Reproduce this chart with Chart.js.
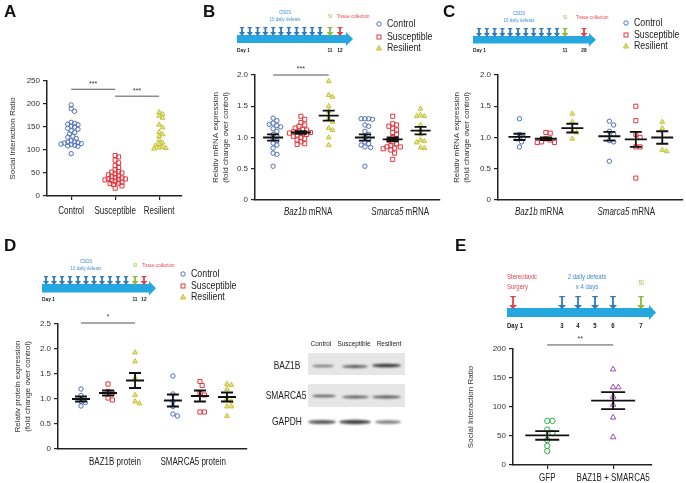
<!DOCTYPE html>
<html>
<head>
<meta charset="utf-8">
<script src="https://cdn.jsdelivr.net/npm/chart.js@4.4.1/dist/chart.umd.min.js"></script>
<style>
  body { margin: 0; background: #fff; width: 686px; height: 483px; overflow: hidden; position: relative; }
  .box { position: absolute; }
  #decor { position: absolute; left: 0; top: 0; }
</style>
</head>
<body>
<canvas id="decor" width="686" height="483"></canvas>
<div class="box" style="left:0;top:60px;width:190px;height:160px"><canvas id="chartA"></canvas></div>
<div class="box" style="left:200px;top:55px;width:245px;height:165px"><canvas id="chartB"></canvas></div>
<div class="box" style="left:445px;top:55px;width:241px;height:165px"><canvas id="chartC"></canvas></div>
<div class="box" style="left:0;top:305px;width:252px;height:165px"><canvas id="chartD"></canvas></div>
<div class="box" style="left:455px;top:330px;width:205px;height:153px"><canvas id="chartE"></canvas></div>
<script>
// ---------- data ----------
const groups = ['Control', 'Susceptible', 'Resilient'];

// A: social interaction ratio
const aControl = [198, 190, 184, 160, 158, 156, 155, 152, 150, 147, 145, 142, 138, 135, 130, 128, 125, 120, 118, 117, 116, 115, 114, 113, 112, 110, 109, 108, 92];
const aSusceptible = [88, 85, 78, 72, 66, 62, 57, 53, 52, 50, 48, 46, 44, 42, 40, 39, 38, 37, 36, 35, 34, 32, 30, 28, 27, 25, 22, 17];
const aResilient = [182, 178, 174, 170, 155, 149, 139, 134, 130, 122, 116, 113, 110, 107, 105, 104, 103];
const aSig = [{ from: 1, to: 2, y: 232, label: '***' }, { from: 2, to: 3, y: 217, label: '***' }];

// B: mRNA, day 12
const bBazControl = [1.31, 1.27, 1.23, 1.21, 1.19, 1.17, 1.14, 1.1, 1.05, 1.02, 0.98, 0.95, 0.91, 0.88, 0.83, 0.75, 0.73, 0.54];
const bBazSusceptible = [1.34, 1.29, 1.24, 1.2, 1.18, 1.15, 1.13, 1.12, 1.1, 1.09, 1.08, 1.07, 1.06, 1.05, 1.04, 1.02, 1.0, 0.98, 0.96, 0.93, 0.9, 0.89];
const bBazResilient = [1.9, 1.68, 1.65, 1.5, 1.42, 1.3, 1.25, 1.15, 1.12, 1.0, 0.88];
const bSmaControl = [1.3, 1.3, 1.3, 1.29, 1.2, 1.18, 1.1, 1.05, 1.0, 0.97, 0.93, 0.9, 0.88, 0.85, 0.84, 0.54];
const bSmaSusceptible = [1.34, 1.22, 1.2, 1.18, 1.15, 1.12, 1.08, 1.05, 1.0, 0.98, 0.96, 0.93, 0.9, 0.87, 0.85, 0.85, 0.83, 0.82, 0.8, 0.75, 0.65];
const bSmaResilient = [1.46, 1.36, 1.34, 1.34, 1.2, 1.12, 1.05, 0.96, 0.94, 0.92, 0.84, 0.83];
const bMeans = [1.0, 1.08, 1.35, 1.0, 0.97, 1.11];
const bSems = [0.05, 0.02, 0.08, 0.05, 0.03, 0.06];
const bSig = [{ from: 1, to: 3, y: 2.0, label: '***' }];

// C: mRNA, day 28
const cBazControl = [1.3, 1.05, 1.0, 0.98, 0.93, 0.85];
const cBazSusceptible = [1.08, 1.07, 0.98, 0.96, 0.93, 0.92, 0.92];
const cBazResilient = [1.38, 1.25, 1.1, 1.08, 0.98];
const cSmaControl = [1.26, 1.2, 1.1, 1.05, 0.95, 0.93, 0.62];
const cSmaSusceptible = [1.5, 1.27, 1.05, 1.0, 0.85, 0.85, 0.35];
const cSmaResilient = [1.25, 1.15, 0.8, 0.78];
const cMeans = [1.01, 0.98, 1.15, 1.02, 0.97, 1.0];
const cSems = [0.05, 0.02, 0.07, 0.07, 0.12, 0.1];

// D: protein
const dBazControl = [1.2, 1.07, 0.95, 0.93, 0.86];
const dBazSusceptible = [1.3, 1.15, 1.12, 1.02, 0.98];
const dBazResilient = [1.93, 1.75, 1.42, 1.08, 0.95, 0.91];
const dSmaControl = [1.46, 1.1, 0.95, 0.85, 0.7, 0.66];
const dSmaSusceptible = [1.35, 1.27, 1.12, 1.08, 0.74, 0.74];
const dSmaResilient = [1.3, 1.28, 1.2, 1.0, 0.95, 0.85, 0.85, 0.66];
const dMeans = [1.0, 1.12, 1.37, 0.97, 1.06, 1.04];
const dSems = [0.05, 0.05, 0.15, 0.12, 0.11, 0.09];
const dSig = [{ from: 1, to: 3, y: 2.52, label: '*' }];

// E: overexpression
const eGroups = ['GFP', 'BAZ1B + SMARCA5'];
const eGFP = [76, 76, 61, 55, 43, 33, 24];
const eCombo = [165, 134, 134, 118, 104, 82, 48];
const eMeans = [51, 111];
const eSems = [7.5, 14.5];
const eSig = [{ from: 1, to: 2, y: 207, label: '**' }];

// ---------- layout / style ----------
const SANS = '"Liberation Sans",Arial,sans-serif';
const SQUEEZE = 0.8;   // horizontal squeeze to mimic the narrow face of the original
Chart.defaults.font.family = SANS;
Chart.defaults.color = '#222';

const COL = { control: '#4e6fb7', susceptible: '#e4383f', resilient: '#c4c43a', gfp: '#2db14b', combo: '#9b50b4' };
const posB = [1, 2, 3, 4.3, 5.3, 6.3];
const posC = [1, 2, 3, 4.4, 5.4, 6.4];

// simple beeswarm: horizontal offsets so markers don't overlap
function swarm(values, center, pxX, pxY, d) {
  const placed = [];
  const xs = new Array(values.length);
  const order = values.map((v, i) => i).sort((a, b) => values[b] - values[a]);
  order.forEach(i => {
    const py = values[i] * pxY;
    let off = 0;
    for (let k = 0; k < 60; k++) {
      const o = (k % 2 ? 1 : -1) * Math.ceil(k / 2) * d * 0.5;
      if (placed.every(p => Math.hypot(p.x - o, p.y - py) >= d)) { off = o; break; }
    }
    placed.push({ x: off, y: py });
    xs[i] = center + off / pxX;
  });
  return xs;
}
function pts(values, center, sw) {
  const xs = swarm(values, center, sw[0], sw[1], sw[2]);
  return values.map((v, i) => ({ x: xs[i], y: v }));
}

function squeezed(ctx, str, x, y, sx) {
  ctx.save();
  ctx.translate(x, y);
  ctx.scale(sx, 1);
  ctx.fillText(str, 0, 0);
  ctx.restore();
}

const dotPlot = {
  id: 'dotPlot',
  afterDatasetsDraw(chart, args, o) {
    const { ctx } = chart;
    const xs = chart.scales.x, ys = chart.scales.y;
    ctx.save();
    ctx.strokeStyle = '#111';
    ctx.lineWidth = 1.8;
    (o.means || []).forEach((m, i) => {
      const x = xs.getPixelForValue(o.pos[i]);
      const yM = ys.getPixelForValue(m);
      const yT = ys.getPixelForValue(m + o.sems[i]);
      const yB = ys.getPixelForValue(m - o.sems[i]);
      ctx.beginPath();
      ctx.moveTo(x - o.meanHalf, yM); ctx.lineTo(x + o.meanHalf, yM);
      ctx.moveTo(x, yT); ctx.lineTo(x, yB);
      ctx.moveTo(x - o.whiskHalf, yT); ctx.lineTo(x + o.whiskHalf, yT);
      ctx.moveTo(x - o.whiskHalf, yB); ctx.lineTo(x + o.whiskHalf, yB);
      ctx.stroke();
    });
    ctx.strokeStyle = '#555';
    ctx.lineWidth = 1;
    ctx.fillStyle = '#333';
    ctx.font = '7px ' + SANS;
    ctx.textAlign = 'center';
    ctx.textBaseline = 'bottom';
    (o.sig || []).forEach(s => {
      const x1 = xs.getPixelForValue(s.from), x2 = xs.getPixelForValue(s.to), y = ys.getPixelForValue(s.y);
      ctx.beginPath(); ctx.moveTo(x1, y); ctx.lineTo(x2, y); ctx.stroke();
      ctx.fillText(s.label, (x1 + x2) / 2, y - 2);
    });
    // group labels under the x axis, gene names in italics
    ctx.fillStyle = '#222';
    ctx.textAlign = 'left';
    ctx.textBaseline = 'middle';
    (o.groups || []).forEach(g => {
      const fonts = g.parts.map(p => (p.italic ? 'italic ' : '') + '10px ' + SANS);
      const widths = g.parts.map((p, k) => { ctx.font = fonts[k]; return ctx.measureText(p.text).width * SQUEEZE; });
      let x = xs.getPixelForValue(g.x) - widths.reduce((a, b) => a + b, 0) / 2;
      const y = ys.getPixelForValue(0) + o.labelDy;
      g.parts.forEach((p, k) => { ctx.font = fonts[k]; squeezed(ctx, p.text, x, y, SQUEEZE); x += widths[k]; });
    });
    ctx.restore();
  }
};

function dotChart(id, o) {
  return new Chart(document.getElementById(id), {
    type: 'scatter',
    data: {
      datasets: o.series.map(s => ({
        label: s.label, data: s.points, pointStyle: s.style,
        pointRadius: s.radius, pointHoverRadius: s.radius,
        borderColor: s.color, backgroundColor: s.fill, borderWidth: 1
      }))
    },
    options: {
      responsive: true, maintainAspectRatio: false, animation: false,
      layout: { padding: o.pad },
      plugins: { legend: { display: false }, tooltip: { enabled: false }, dotPlot: o.dot },
      scales: {
        x: {
          type: 'linear', min: o.xMin, max: o.xMax,
          afterFit: s => { s.height = o.xH; },
          afterBuildTicks: s => { s.ticks = o.xTicks.map(v => ({ value: v })); },
          grid: { display: !!o.xTickMarks, drawOnChartArea: false, tickLength: 4, color: '#222', lineWidth: 1.2 },
          border: { display: true, color: '#222', width: 1.5 },
          ticks: { display: false }
        },
        y: {
          min: o.yMin, max: o.yMax,
          afterFit: s => { s.width = o.yW; },
          ticks: { stepSize: o.step, font: { size: 8 }, color: '#333', padding: 3, callback: o.yFmt },
          grid: { drawOnChartArea: false, tickLength: 4, color: '#222', lineWidth: 1.2 },
          border: { color: '#222', width: 1.5 },
          title: { display: true, text: o.title, color: '#333', font: { size: 8, lineHeight: 1.25 }, padding: { top: o.titlePad, bottom: 0 } }
        }
      }
    },
    plugins: [dotPlot]
  });
}

const fmt1 = v => v === 0 ? '0' : v.toFixed(1);
const circ = (p, col) => ({ label: 'Control', points: p, style: 'circle', radius: 2.2, color: col, fill: 'rgba(255,255,255,0)' });
const sq = (p, col) => ({ label: 'Susceptible', points: p, style: 'rect', radius: 2.9, color: col, fill: 'rgba(255,255,255,0)' });
const tri = (p, col) => ({ label: 'Resilient', points: p, style: 'triangle', radius: 2.8, color: col, fill: 'rgba(205,205,70,0.55)' });
const plain = (labels, xs) => labels.map((t, i) => ({ x: xs[i], parts: [{ text: t }] }));

// A
const swA = [44, 0.46, 3.4];
dotChart('chartA', {
  series: [circ(pts(aControl, 1, swA), COL.control), sq(pts(aSusceptible, 2, swA), COL.susceptible), tri(pts(aResilient, 3, swA), COL.resilient)],
  xMin: 0.45, xMax: 3.52, xTicks: [1, 2, 3], xTickMarks: true, xH: 24,
  yMin: 0, yMax: 250, step: 50, yW: 47, yFmt: v => v,
  pad: { top: 21, right: 8, left: 0, bottom: 0 },
  title: 'Social Interaction Ratio', titlePad: 8,
  dot: { sig: aSig, labelDy: 15, groups: plain(groups, [1, 2, 3]) }
});

// B
const swB = [27.8, 62.5, 3.8];
dotChart('chartB', {
  series: [
    circ(pts(bBazControl, posB[0], swB).concat(pts(bSmaControl, posB[3], swB)), COL.control),
    sq(pts(bBazSusceptible, posB[1], swB).concat(pts(bSmaSusceptible, posB[4], swB)), COL.susceptible),
    tri(pts(bBazResilient, posB[2], swB).concat(pts(bSmaResilient, posB[5], swB)), COL.resilient)
  ],
  xMin: 0.35, xMax: 7.0, xTicks: [2, 5.3], xH: 20,
  yMin: 0, yMax: 2, step: 0.5, yW: 55, yFmt: fmt1,
  pad: { top: 20, right: 5, left: 0, bottom: 0 },
  title: ['Relativ mRNA expression', '(fold change over control)'], titlePad: 11,
  dot: { means: bMeans, sems: bSems, pos: posB, meanHalf: 10, whiskHalf: 6, sig: bSig, labelDy: 12,
         groups: [{ x: 2.26, parts: [{ text: 'Baz1b', italic: true }, { text: ' mRNA' }] },
                  { x: 5.57, parts: [{ text: 'Smarca5', italic: true }, { text: ' mRNA' }] }] }
});

// C
const swC = [27, 62.5, 4.4];
dotChart('chartC', {
  series: [
    circ(pts(cBazControl, posC[0], swC).concat(pts(cSmaControl, posC[3], swC)), COL.control),
    sq(pts(cBazSusceptible, posC[1], swC).concat(pts(cSmaSusceptible, posC[4], swC)), COL.susceptible),
    tri(pts(cBazResilient, posC[2], swC).concat(pts(cSmaResilient, posC[5], swC)), COL.resilient)
  ],
  xMin: 0.19, xMax: 7.15, xTicks: [2, 5.4], xH: 20,
  yMin: 0, yMax: 2, step: 0.5, yW: 53, yFmt: fmt1,
  pad: { top: 20, right: 0, left: 0, bottom: 0 },
  title: ['Relativ mRNA expression', '(fold change over control)'], titlePad: 7,
  dot: { means: cMeans, sems: cSems, pos: posC, meanHalf: 11, whiskHalf: 6, labelDy: 12,
         groups: [{ x: 1.75, parts: [{ text: 'Baz1b', italic: true }, { text: ' mRNA' }] },
                  { x: 5.04, parts: [{ text: 'Smarca5', italic: true }, { text: ' mRNA' }] }] }
});

// D
const swD = [27, 50, 4.4];
dotChart('chartD', {
  series: [
    circ(pts(dBazControl, posC[0], swD).concat(pts(dSmaControl, posC[3], swD)), COL.control),
    sq(pts(dBazSusceptible, posC[1], swD).concat(pts(dSmaSusceptible, posC[4], swD)), COL.susceptible),
    tri(pts(dBazResilient, posC[2], swD).concat(pts(dSmaResilient, posC[5], swD)), COL.resilient)
  ],
  xMin: 0.15, xMax: 7.14, xTicks: [2, 5.4], xH: 21,
  yMin: 0, yMax: 2.5, step: 0.5, yW: 58, yFmt: fmt1,
  pad: { top: 19, right: 5, left: 0, bottom: 0 },
  title: ['Relativ protein expression', '(fold change over control)'], titlePad: 13,
  dot: { means: dMeans, sems: dSems, pos: posC, meanHalf: 9, whiskHalf: 6, sig: dSig, labelDy: 13,
         groups: plain(['BAZ1B protein', 'SMARCA5 protein'], [2.26, 5.15]) }
});

// E
const swE = [66, 0.58, 5.2];
dotChart('chartE', {
  series: [
    { label: 'GFP', points: pts(eGFP, 1, swE), style: 'circle', radius: 2.7, color: COL.gfp, fill: 'rgba(255,255,255,0)' },
    { label: 'BAZ1B + SMARCA5', points: pts(eCombo, 2, swE), style: 'triangle', radius: 3.2, color: COL.combo, fill: 'rgba(255,255,255,0)' }
  ],
  xMin: 0.48, xMax: 2.59, xTicks: [1, 2], xTickMarks: true, xH: 18,
  yMin: 0, yMax: 200, step: 50, yW: 58, yFmt: v => v,
  pad: { top: 19, right: 8, left: 0, bottom: 0 },
  title: 'Social Interaction Ratio', titlePad: 11,
  dot: { means: eMeans, sems: eSems, pos: [1, 2], meanHalf: 22, whiskHalf: 12, sig: eSig, labelDy: 13,
         groups: plain(eGroups, [1, 2]) }
});

// ---------- timelines, legends, blot, panel letters ----------
const dc = document.getElementById('decor').getContext('2d');

function text(t, x, y, font, color, align) {
  dc.font = font; dc.fillStyle = color || '#222';
  dc.textBaseline = 'middle'; dc.textAlign = 'left';
  const w = dc.measureText(t).width * SQUEEZE;
  const x0 = align === 'left' ? x : align === 'right' ? x - w : x - w / 2;
  squeezed(dc, t, x0, y, SQUEEZE);
}
function downArrow(x, top, bottom, color, hw) {
  dc.fillStyle = color;
  dc.fillRect(x - 0.9, top, 1.8, bottom - top - 3);
  dc.fillRect(x - hw * 0.7, top, hw * 1.4, 1.2);
  dc.beginPath();
  dc.moveTo(x - hw, bottom - 4); dc.lineTo(x + hw, bottom - 4); dc.lineTo(x, bottom);
  dc.closePath(); dc.fill();
}
function timelineBar(x0, x1, top, h) {
  dc.fillStyle = '#25a8e0';
  dc.fillRect(x0, top, x1 - x0 - 7, h);
  dc.beginPath();
  dc.moveTo(x1 - 7, top - 3); dc.lineTo(x1, top + h / 2); dc.lineTo(x1 - 7, top + h + 3);
  dc.closePath(); dc.fill();
}
function csdsTimeline(t) {
  timelineBar(t.x0, t.x1, t.top, t.h);
  for (let i = 0; i < 11; i++) downArrow(t.first + i * (t.last - t.first) / 10, t.top - 8, t.top + 1, '#2f78bd', 3);
  downArrow(t.si, t.top - 8, t.top + 1, '#8cbb3c', 3.5);
  downArrow(t.tc, t.top - 8, t.top + 1, '#e2444d', 3.5);
  const f = '5.5px ' + SANS;
  text('CSDS', t.csdsX, t.top - 23, f, '#3d8fd1');
  text('10 daily defeats', t.csdsX, t.top - 16, f, '#3d8fd1');
  text('SI', t.si, t.top - 19, f, '#8cbb3c');
  text('Tissue collection', t.tcX, t.top - 19, f, '#e2444d', 'left');
  const fb = 'bold 6px ' + SANS;
  text('Day 1', t.x0, t.top + t.h + 7, fb, '#222', 'left');
  text('11', t.si, t.top + t.h + 7, fb);
  text(t.tcDay, t.tc, t.top + t.h + 7, fb);
}
function legend(x, ys) {
  dc.lineWidth = 1;
  dc.strokeStyle = COL.control;
  dc.beginPath(); dc.arc(x, ys[0], 2.2, 0, Math.PI * 2); dc.stroke();
  dc.strokeStyle = COL.susceptible;
  dc.strokeRect(x - 2, ys[1] - 2, 4, 4);
  dc.fillStyle = 'rgba(205,205,70,0.7)'; dc.strokeStyle = COL.resilient;
  dc.beginPath(); dc.moveTo(x, ys[2] - 2.6); dc.lineTo(x + 2.6, ys[2] + 2); dc.lineTo(x - 2.6, ys[2] + 2); dc.closePath(); dc.fill(); dc.stroke();
  groups.forEach((g, i) => text(g, x + 8, ys[i], '11px ' + SANS, '#222', 'left'));
}

csdsTimeline({ x0: 237, x1: 353, top: 35, h: 8, first: 242, last: 320, si: 330, tc: 340, csdsX: 285, tcX: 337, tcDay: '12' });
csdsTimeline({ x0: 473, x1: 596, top: 36, h: 7.5, first: 479, last: 557, si: 565, tc: 584, csdsX: 519, tcX: 576, tcDay: '28' });
csdsTimeline({ x0: 42, x1: 156, top: 284, h: 8.5, first: 46, last: 126, si: 135, tc: 144, csdsX: 86, tcX: 142, tcDay: '12' });
legend(379, [24, 37, 48]);
legend(626, [23, 35, 46]);
legend(183, [274, 286, 297]);

// E timeline
timelineBar(507, 656, 308, 9);
downArrow(513, 296, 309, '#e2444d', 4);
[562, 578, 595, 613].forEach(x => downArrow(x, 296, 309, '#2f78bd', 4));
downArrow(641, 296, 309, '#8cbb3c', 4);
const ef = '7.5px ' + SANS;
text('Stereotaxic', 507, 277, ef, '#e2444d', 'left');
text('Surgery', 507, 287, ef, '#e2444d', 'left');
text('2 daily defeats', 587, 277, ef, '#3d8fd1');
text('x 4 days', 587, 287, ef, '#3d8fd1');
text('SI', 641, 283, ef, '#8cbb3c');
text('Day 1', 507, 326, 'bold 7.5px ' + SANS, '#222', 'left');
[['3', 562], ['4', 578], ['5', 595], ['6', 613], ['7', 641]].forEach(d => text(d[0], d[1], 326, 'bold 7.5px ' + SANS));

// western blot
function band(x0, x1, y, h, a) {
  dc.save();
  dc.filter = 'blur(0.8px)';
  dc.fillStyle = 'rgba(35,35,35,' + a + ')';
  dc.beginPath(); dc.ellipse((x0 + x1) / 2, y, (x1 - x0) / 2, h / 2, 0, 0, Math.PI * 2); dc.fill();
  dc.restore();
}
const hf = '8px ' + SANS;
text('Control', 321, 344, hf); text('Susceptible', 354, 344, hf); text('Resilient', 389, 344, hf);
dc.fillStyle = '#e6e6e6'; dc.fillRect(308, 353, 97, 22); dc.fillRect(308, 384, 97, 23);
const rf = '10.5px ' + SANS;
text('BAZ1B', 287, 366, rf); text('SMARCA5', 286, 396, rf); text('GAPDH', 287, 422, rf);
band(312, 334, 366, 2.6, 0.55); band(342, 368, 366.5, 3, 0.75); band(372, 401, 365.5, 3.5, 0.9);
band(312, 336, 396, 2.6, 0.7); band(342, 369, 397, 2.8, 0.7); band(372, 401, 397, 3, 0.75);
band(308, 336, 422, 4, 0.75); band(339, 371, 422, 4.5, 0.85); band(375, 401, 422, 3.5, 0.6);

// panel letters
[['A', 4, 17], ['B', 203, 17], ['C', 443, 17], ['D', 4, 251], ['E', 455, 251]].forEach(l => {
  dc.font = 'bold 17px ' + SANS; dc.fillStyle = '#111'; dc.textAlign = 'left'; dc.textBaseline = 'alphabetic';
  dc.fillText(l[0], l[1], l[2]);
});
</script>
</body>
</html>
